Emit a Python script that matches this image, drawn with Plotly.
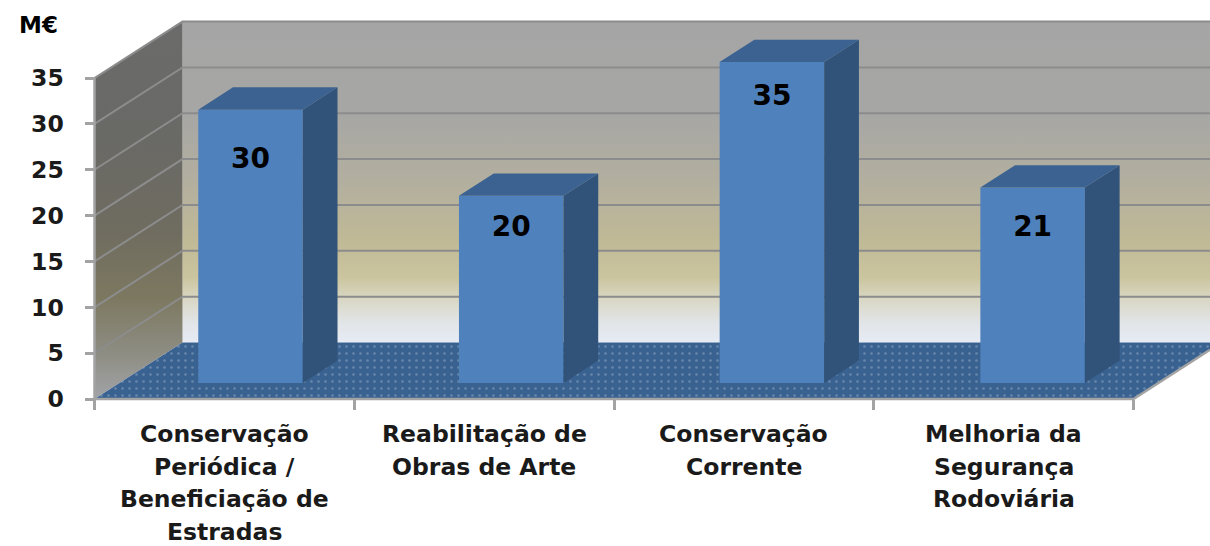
import plotly.graph_objects as go

# Data
values = [29.8, 20.4, 35.0, 21.3]
category_lines = [
    ["Conservação", "Periódica /", "Beneficiação de", "Estradas"],
    ["Reabilitação de", "Obras de Arte"],
    ["Conservação", "Corrente"],
    ["Melhoria da", "Segurança", "Rodoviária"],
]
y_ticks = [0, 5, 10, 15, 20, 25, 30, 35]
unit_label = "M€"
label_drop = [5.6, 3.6, 3.9, 4.5]

# Layout geometry
W, H = 1210, 546
X0, Y0 = 94.5, 399
CAT_PX, UNIT_PX = 259.75, 9.17
DEPTH_X, DEPTH_Y = 88 / CAT_PX, 56.5 / UNIT_PX
BAR_W, D_FRONT, D_BACK = 104.5 / CAT_PX, 0.285, 0.68
BAR_X0, BAR_STEP = 0.6006, 260.7 / CAT_PX
Y_MAX = max(y_ticks)
N = len(values)

x_range = [-X0 / CAT_PX, (W - X0) / CAT_PX]
y_range = [-(H - Y0) / UNIT_PX, Y0 / UNIT_PX]


def proj(x, v, d):
    return x + d * DEPTH_X, v + d * DEPTH_Y


def poly(points, **kw):
    xs, ys = zip(*points)
    return go.Scatter(x=list(xs) + [xs[0]], y=list(ys) + [ys[0]], mode="lines", fill="toself",
                      hoverinfo="skip", showlegend=False, **kw)


GRID = "#8c8c8c"
EDGE = "#a3a3a3"
fig = go.Figure()

# Back wall
fig.add_trace(poly([proj(0, 0, 1), proj(x_range[1] - DEPTH_X, 0, 1), proj(x_range[1] - DEPTH_X, Y_MAX, 1), proj(0, Y_MAX, 1)],
                   line=dict(width=0),
                   fillgradient=dict(type="vertical", colorscale=[
                       [0, "#e6ebf5"], [0.06, "#e2e5e8"], [0.14, "#d8d6c2"], [0.20, "#cbc59f"],
                       [0.32, "#c0b996"], [0.5, "#b3af9f"], [0.72, "#a6a6a5"], [1, "#a5a5a5"]])))
# Left wall
fig.add_trace(poly([proj(0, 0, 0), proj(0, 0, 1), proj(0, Y_MAX, 1), proj(0, Y_MAX, 0)],
                   line=dict(width=0),
                   fillgradient=dict(type="vertical", colorscale=[
                       [0, "#a2a3a8"], [0.12, "#8e8d83"], [0.27, "#7c7860"], [0.45, "#6f6c60"],
                       [0.7, "#696966"], [1, "#6b6b6b"]])))
# Wall grid lines
for t in y_ticks[1:]:
    pts = [proj(0, t, 0), proj(0, t, 1), proj(x_range[1] - DEPTH_X, t, 1)]
    fig.add_trace(go.Scatter(x=[p[0] for p in pts], y=[p[1] for p in pts], mode="lines",
                             line=dict(color=GRID, width=2), hoverinfo="skip", showlegend=False))
# Floor
fig.add_trace(poly([proj(0, 0, 0), proj(N, 0, 0), proj(N, 0, 0.87), proj(x_range[1] - DEPTH_X, 0, 1), proj(0, 0, 1)],
                   line=dict(width=0), fillcolor="#3a6291",
                   fillpattern=dict(shape=".", bgcolor="#3a6291", fgcolor="#8fa9c4", size=7, solidity=0.12)))
# Axis lines
fig.add_trace(go.Scatter(x=[0, 0, N, proj(N, 0, 0.87)[0]], y=[Y_MAX, 0, 0, proj(N, 0, 0.87)[1]], mode="lines",
                         line=dict(color=EDGE, width=2.5), hoverinfo="skip", showlegend=False))

# Bars: front faces
centers = [BAR_X0 - D_FRONT * DEPTH_X + i * BAR_STEP for i in range(N)]
bar_x = [c + D_FRONT * DEPTH_X for c in centers]
base = D_FRONT * DEPTH_Y
fig.add_trace(go.Bar(x=bar_x, y=values, base=[base] * N, width=BAR_W, xaxis="x2", yaxis="y2",
                     marker=dict(color="#4f81bd", line=dict(width=0)), hoverinfo="skip", showlegend=False))
# Bars: side and top faces
for c, v in zip(centers, values):
    left = c - BAR_W / 2
    right = c + BAR_W / 2
    fig.add_trace(poly([proj(right, 0, D_FRONT), proj(right, 0, D_BACK), proj(right, v, D_BACK), proj(right, v, D_FRONT)],
                       fillcolor="#315379", line=dict(width=0), xaxis="x2", yaxis="y2"))
    fig.add_trace(poly([proj(left, v, D_FRONT), proj(right, v, D_FRONT), proj(right, v, D_BACK), proj(left, v, D_BACK)],
                       fillcolor="#3b6290", line=dict(width=0), xaxis="x2", yaxis="y2"))

# Value labels
fig.add_trace(go.Scatter(x=bar_x, y=[base + v - d for v, d in zip(values, label_drop)],
                         text=[str(round(v)) for v in values], mode="text", textposition="middle center",
                         textfont=dict(family="DejaVu Sans", size=28, color="#000000", weight="bold"),
                         xaxis="x2", yaxis="y2", hoverinfo="skip", showlegend=False))

# Category labels, one annotation per line for the wide leading
annotations = []
for i, lines in enumerate(category_lines):
    for j, line in enumerate(lines):
        annotations.append(dict(x=i + 0.5, y=-(35 + 32.6 * j) / UNIT_PX, xref="x", yref="y", text=line,
                                showarrow=False, xanchor="center", yanchor="middle",
                                font=dict(family="DejaVu Sans", size=23.5, color="#1a1a1a", weight="bold")))
annotations.append(dict(x=17 / W, y=1 - 25 / H, xref="paper", yref="paper", text=unit_label, showarrow=False,
                        xanchor="left", yanchor="middle",
                        font=dict(family="DejaVu Sans", size=23, color="#000000", weight="bold")))

fig.update_layout(
    width=W, height=H, margin=dict(l=0, r=0, t=0, b=0),
    paper_bgcolor="#ffffff", plot_bgcolor="#ffffff", showlegend=False, annotations=annotations,
    xaxis=dict(range=x_range, domain=[0, 1], anchor="free", position=(H - Y0) / H,
               showgrid=False, zeroline=False, showline=False, showticklabels=False, ticks="",
               tickvals=[], minor=dict(tickvals=list(range(N + 1)), ticks="outside", ticklen=10, tickwidth=2.5, tickcolor=EDGE)),
    yaxis=dict(range=y_range, domain=[0, 1], anchor="free", position=X0 / W, tickvals=y_ticks,
               showgrid=False, zeroline=False, showline=False, ticks="outside", ticklen=10, tickwidth=2.5, tickcolor=EDGE,
               ticklabelstandoff=16,
               tickfont=dict(family="DejaVu Sans", size=23.5, color="#1a1a1a", weight="bold")),
    xaxis2=dict(range=x_range, overlaying="x", visible=False),
    yaxis2=dict(range=y_range, overlaying="y", visible=False),
)

fig.write_html("out.html", config=dict(displayModeBar=False),
               post_script="document.body.style.margin='0';document.body.style.overflow='hidden';")
